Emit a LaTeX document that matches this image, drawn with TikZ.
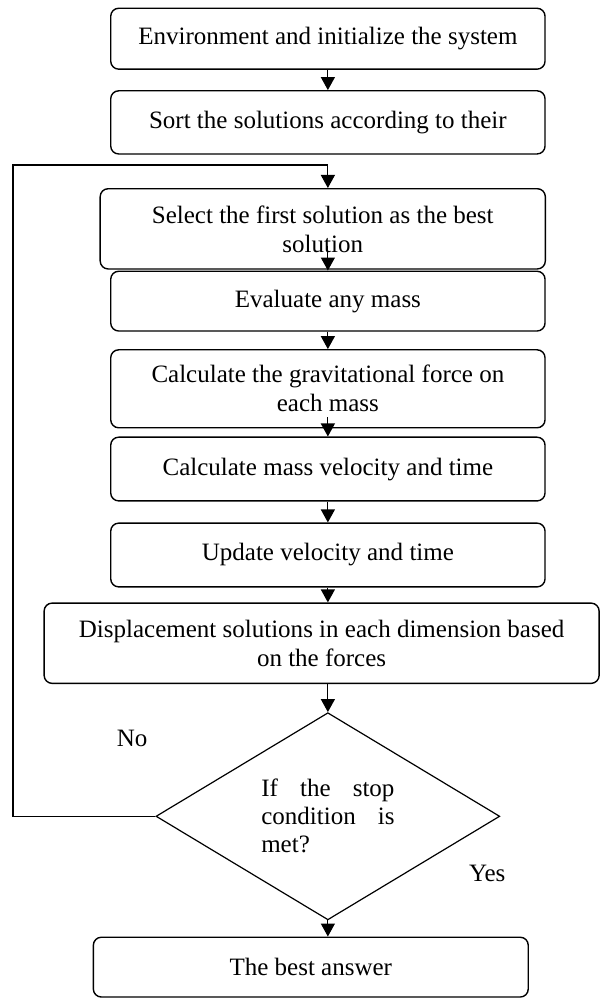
\documentclass[tikz,border=0pt]{standalone}
\usepackage{fontspec}
\setmainfont{Liberation Serif}
\usetikzlibrary{arrows.meta,shapes.geometric}
\tikzset{
  stepbox/.style={rectangle, rounded corners=4pt, draw=black, line width=0.7pt, minimum width=7.63cm, align=center, inner sep=2pt, font=\fontsize{12.5}{14.5}\selectfont},
  decision/.style={diamond, draw=black, line width=0.6pt, minimum width=6.04cm, minimum height=3.6cm, inner sep=0pt, text width=2.34cm, align=left, font=\fontsize{12.5}{14}\selectfont},
  label/.style={font=\fontsize{12.5}{14.5}\selectfont, inner sep=0pt},
  arrow/.style={-{Triangle[length=6.5pt,width=7pt]}, line width=0.6pt}
}
\begin{document}
\begin{tikzpicture}
  \useasboundingbox (0,0) rectangle (10.54,-17.55);
  % flow steps
  \node[stepbox, minimum height=1.07cm] (init) at (5.76,-0.68) {Environment and initialize the system};
  \node[stepbox, minimum height=1.11cm] (sort) at (5.76,-2.15) {Sort the solutions according to their};
  \node[stepbox, minimum height=1.41cm, minimum width=7.82cm] (best) at (5.67,-4.02) {Select the first solution as the best\\ solution};
  \node[stepbox, minimum height=1.05cm] (eval) at (5.76,-5.29) {Evaluate any mass};
  \node[stepbox, minimum height=1.37cm] (force) at (5.76,-6.83) {Calculate the gravitational force on\\ each mass};
  \node[stepbox, minimum height=1.12cm] (calc) at (5.76,-8.24) {Calculate mass velocity and time};
  \node[stepbox, minimum height=1.12cm] (update) at (5.76,-9.75) {Update velocity and time};
  \node[stepbox, minimum height=1.41cm, minimum width=9.75cm] (move) at (5.65,-11.30) {Displacement solutions in each dimension based\\ on the forces};
  \node[decision] (stop) at (5.76,-14.34) {If\hfill the\hfill stop\\ condition\hfill is\\ met?};
  \node[stepbox, minimum height=1.05cm, minimum width=7.64cm] (answer) at (5.46,-16.99) {The best answer};
  \node[label] (no) at (2.32,-12.97) {No};
  \node[label] (yes) at (8.56,-15.34) {Yes};
  \coordinate (back) at (0.23,-2.90);
  \coordinate (looptop) at (5.76,-2.90);
  % connectors
  \draw[arrow] (init) -- (sort);
  \draw[arrow] ([yshift=12pt]best.south -| looptop) -- (eval.north);
  \draw[arrow] (eval) -- (force);
  \draw[arrow] ([yshift=5.5pt]force.south) -- (calc.north);
  \draw[arrow] (calc) -- (update);
  \draw[arrow] (update) -- (move.north -| update.south);
  \draw[arrow] (move.south -| stop.north) -- (stop.north);
  \draw[arrow] (stop.south) -- (answer.north -| stop.south);
  \draw[arrow] (stop.west) -| (back) -- (looptop) -- (looptop |- best.north);
\end{tikzpicture}
\end{document}
